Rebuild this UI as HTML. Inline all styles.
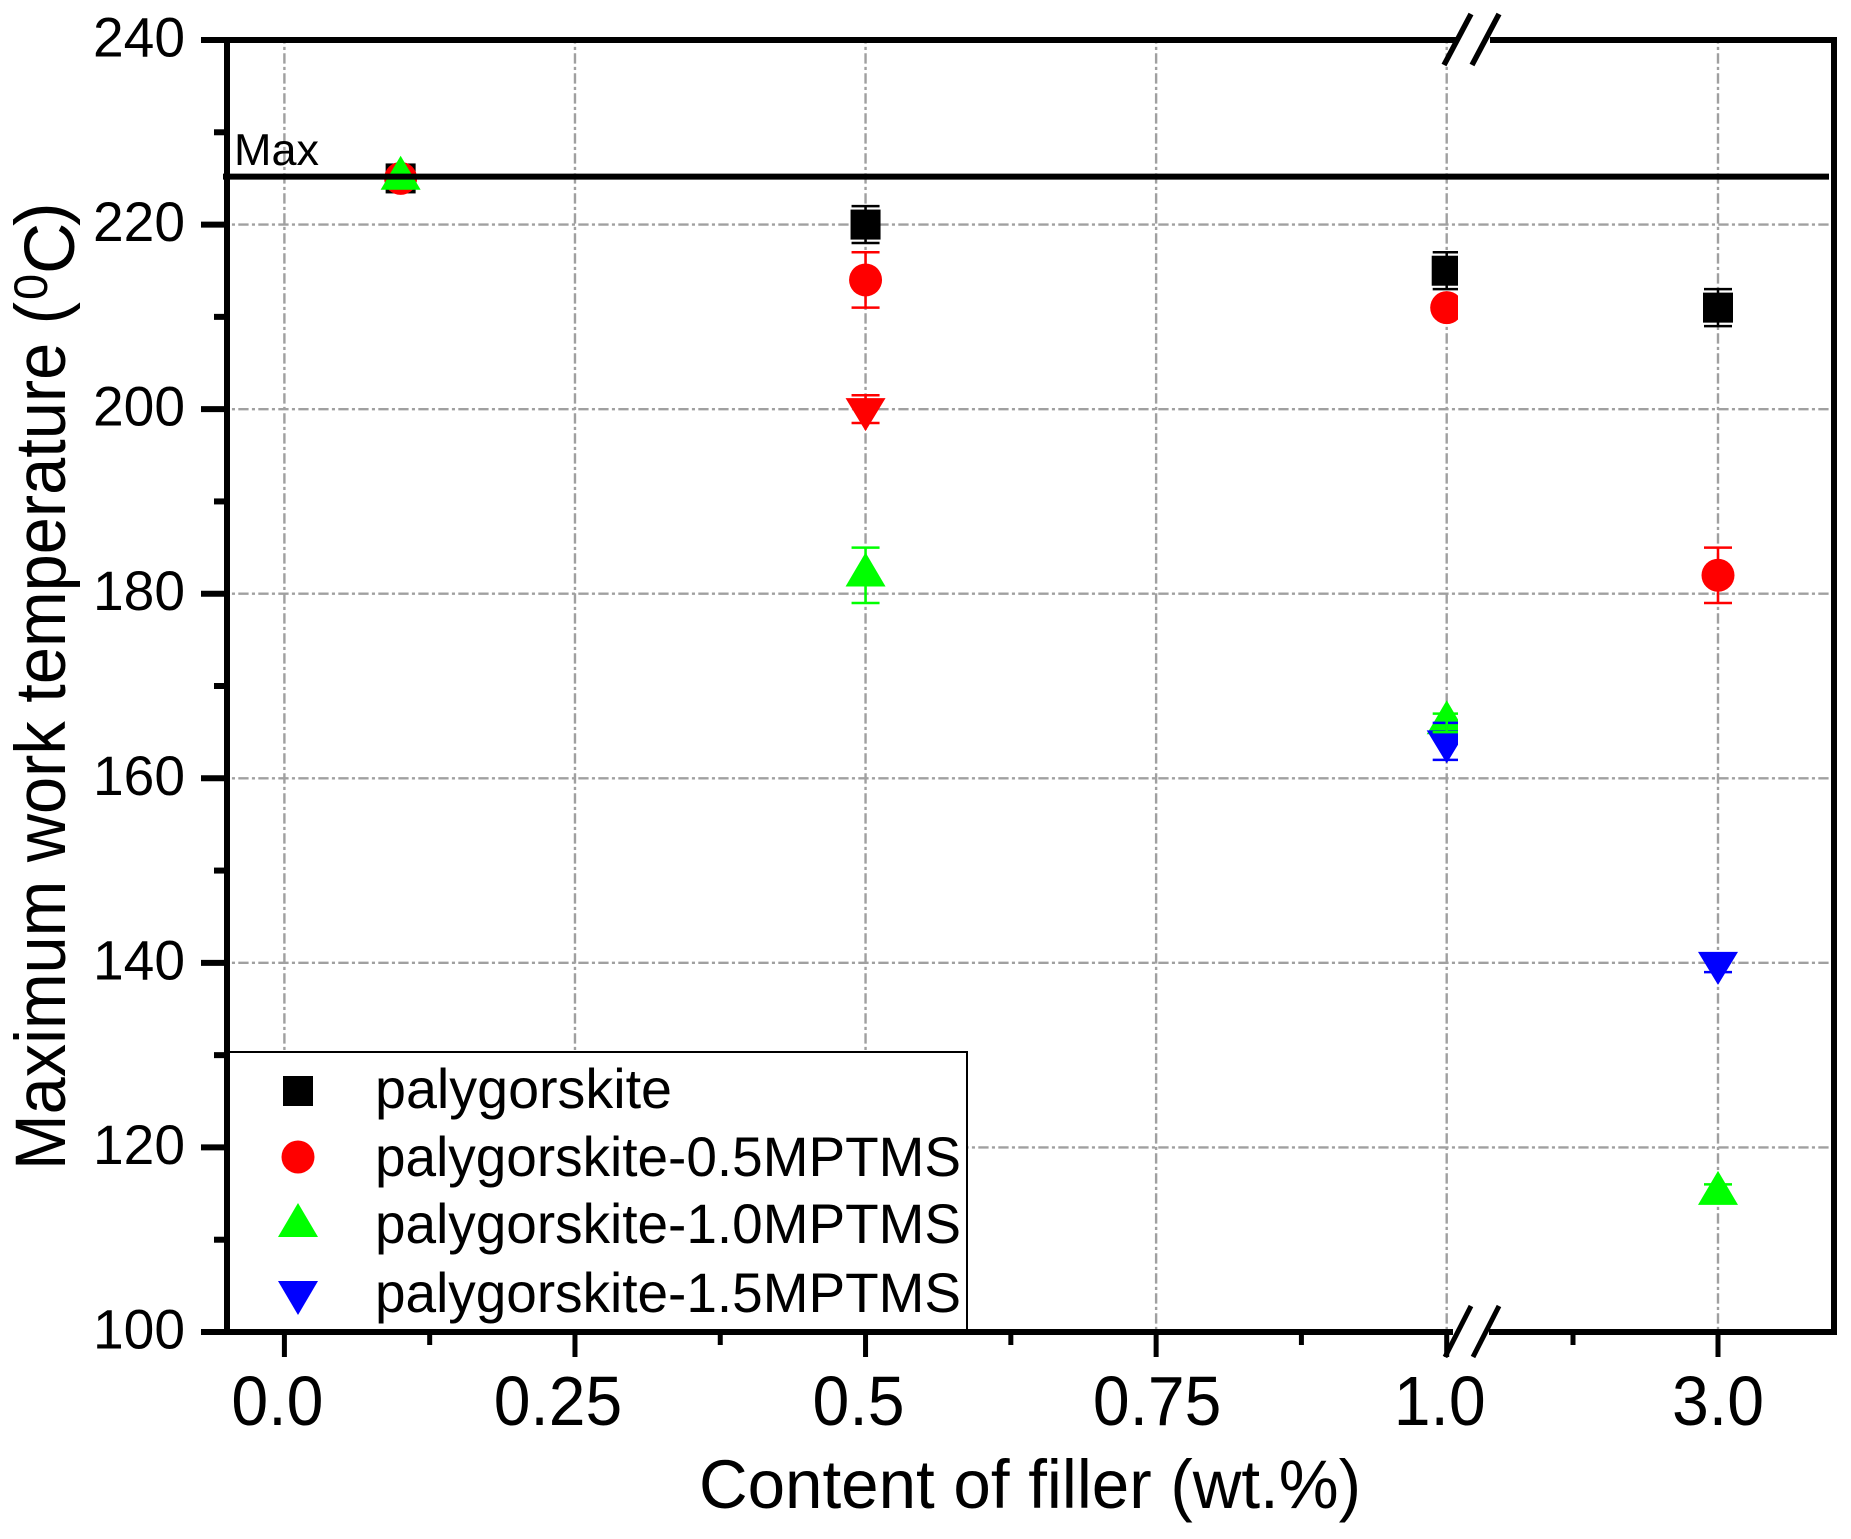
<!DOCTYPE html>
<html lang="en">
<head>
<meta charset="utf-8">
<title>Maximum work temperature vs content of filler</title>
<style>
html,body{margin:0;padding:0;background:#fff;}
svg{display:block;font-family:"Liberation Sans",Arial,sans-serif;}
</style>
</head>
<body>
<svg id="chart" xmlns="http://www.w3.org/2000/svg" width="1851" height="1539" viewBox="0 0 1851 1539">
  <rect x="0" y="0" width="1851" height="1539" fill="#fff"/>
  <defs>
    <clipPath id="data-clip">
      <rect x="230" y="43" width="1228" height="1286"/>
      <rect x="1490" y="43" width="341" height="1286"/>
    </clipPath>
  </defs>
  <g id="grid-layer"></g>
  <g id="data-layer" clip-path="url(#data-clip)"></g>
  <line id="max-line" x1="223" x2="1829" stroke="#000" stroke-width="6"/>
  <text x="234" y="165" font-size="44.5" fill="#000" textLength="85" lengthAdjust="spacingAndGlyphs">Max</text>

  <g>
    <rect x="229" y="1052" width="738" height="280" fill="#fff" stroke="#000" stroke-width="2"/>
    <rect x="283" y="1076" width="30" height="30" fill="#000"/>
    <circle cx="298" cy="1157" r="16.5" fill="#f00"/>
    <polygon points="298,1203 318,1237 278,1237" fill="#0f0"/>
    <polygon points="278,1281 318,1281 298,1315" fill="#00f"/>
    <text x="375" y="1108" font-size="56" fill="#000" textLength="297" lengthAdjust="spacingAndGlyphs">palygorskite</text>
    <text x="375" y="1176" font-size="56" fill="#000" textLength="586" lengthAdjust="spacingAndGlyphs">palygorskite-0.5MPTMS</text>
    <text x="375" y="1243" font-size="56" fill="#000" textLength="586" lengthAdjust="spacingAndGlyphs">palygorskite-1.0MPTMS</text>
    <text x="375" y="1312" font-size="56" fill="#000" textLength="586" lengthAdjust="spacingAndGlyphs">palygorskite-1.5MPTMS</text>
  </g>

  <g id="axis-layer">
    <line x1="227" y1="37" x2="227" y2="1335" stroke="#000" stroke-width="6"/>
    <line x1="1834" y1="37" x2="1834" y2="1335" stroke="#000" stroke-width="6"/>
    <line x1="201" y1="40" x2="1457" y2="40" stroke="#000" stroke-width="6"/>
    <line x1="1490" y1="40" x2="1837" y2="40" stroke="#000" stroke-width="6"/>
    <line x1="201" y1="1332" x2="1453" y2="1332" stroke="#000" stroke-width="6"/>
    <line x1="1489" y1="1332" x2="1837" y2="1332" stroke="#000" stroke-width="6"/>
    <line x1="1444" y1="65" x2="1471" y2="14" stroke="#000" stroke-width="5.5"/>
    <line x1="1472" y1="65" x2="1499" y2="14" stroke="#000" stroke-width="5.5"/>
    <line x1="1445" y1="1357" x2="1471" y2="1306" stroke="#000" stroke-width="5"/>
    <line x1="1473" y1="1357" x2="1499" y2="1306" stroke="#000" stroke-width="5"/>
  </g>

  <text x="699" y="1508" font-size="69" fill="#000" textLength="662" lengthAdjust="spacingAndGlyphs">Content of filler (wt.%)</text>
  <text transform="rotate(-90)" font-size="71" fill="#000"><tspan x="-1170" y="65" textLength="868" lengthAdjust="spacingAndGlyphs">Maximum work temperature (</tspan><tspan x="-300" y="47" font-size="47">0</tspan><tspan x="-274" y="74" font-size="71">C</tspan><tspan x="-226" y="65" font-size="71">)</tspan></text>
</svg>

<script>
// ---------- chart data ----------
const xCategories = [0.1, 0.5, 1.0, 3.0];
const palygorskiteValues = [225, 220, 215, 211];
const palygorskiteErrors = [0, 2, 2, 2];
const mptms05Values = [225, 214, 211, 182];
const mptms05Errors = [0, 3, 0, 3];
const mptms10Values = [225, 182, 166, 115];
const mptms10Errors = [0, 3, 1, 1];
const mptms15Values = [null, 200, 164, 140];
const mptms15Errors = [0, 1.5, 2, 1];
const maxTemperature = [225.2];
const yMajorTicks = [100, 120, 140, 160, 180, 200, 220, 240];
const yMinorTicks = [110, 130, 150, 170, 190, 210, 230];
const xMajorTicks = [0, 0.25, 0.5, 0.75, 1.0, 3.0];
const xMajorLabels = ['0.0', '0.25', '0.5', '0.75', '1.0', '3.0'];
const xMinorTicks = [0.125, 0.375, 0.625, 0.875, 2.0];

// ---------- axis functions ----------
function yScale(v) { return 40 + (240 - v) * (1292 / 140); }
function xScale(v) {
  if (v <= 1) return 284.4 + v * 1162.3;
  return 1718 - (3 - v) * 145;
}
function labelNudge(label) {
  if (label === '0.25') return -17;
  if (label === '0.0' || label === '0.5' || label === '1.0') return -7;
  if (label === '0.75') return 1;
  return 0;
}

const NS = 'http://www.w3.org/2000/svg';
function mk(tag, attrs, parent) {
  const el = document.createElementNS(NS, tag);
  Object.keys(attrs).forEach(function (k) { el.setAttribute(k, attrs[k]); });
  parent.appendChild(el);
  return el;
}

const gridLayer = document.getElementById('grid-layer');
const dataLayer = document.getElementById('data-layer');
const axisLayer = document.getElementById('axis-layer');
const GRID = '#a0a0a0';
const DASH = '10.3 3.3 3.1 3.3';

document.getElementById('max-line').setAttribute('y1', yScale(maxTemperature[0]));
document.getElementById('max-line').setAttribute('y2', yScale(maxTemperature[0]));

// ---------- grid ----------
yMajorTicks.forEach(function (v) {
  if (v === 100 || v === 240) return;
  const g = mk('line', { x1: 230, x2: 1831, y1: yScale(v), y2: yScale(v), stroke: GRID, 'stroke-width': 2.4, 'stroke-dasharray': DASH, 'stroke-dashoffset': 11.7 }, gridLayer);
  
  
});
xMajorTicks.forEach(function (v) {
  const g = mk('line', { x1: xScale(v), x2: xScale(v), y1: 43, y2: 1329, stroke: GRID, 'stroke-width': 2.4, 'stroke-dasharray': DASH, 'stroke-dashoffset': 9.7 }, gridLayer);
  
  
});

// ---------- ticks ----------
yMajorTicks.forEach(function (v) {
  const t = mk('line', { x1: 201, x2: 227, y1: yScale(v), y2: yScale(v), stroke: '#000', 'stroke-width': 6 }, axisLayer);
  
  
  const l = mk('text', { x: 185, y: yScale(v) + 16.5, 'text-anchor': 'end', 'font-size': 55.5, fill: '#000', textLength: 92, lengthAdjust: 'spacingAndGlyphs' }, axisLayer);
  l.textContent = String(v);
  
  
});
yMinorTicks.forEach(function (v) {
  const t = mk('line', { x1: 214, x2: 227, y1: yScale(v), y2: yScale(v), stroke: '#000', 'stroke-width': 6 }, axisLayer);
  
  
});
xMajorTicks.forEach(function (v, i) {
  const t = mk('line', { x1: xScale(v), x2: xScale(v), y1: 1332, y2: 1357, stroke: '#000', 'stroke-width': 5 }, axisLayer);
  
  
  const adv = xMajorLabels[i].length === 4 ? 128.5 : 92;
  const l = mk('text', { x: xScale(v) + labelNudge(xMajorLabels[i]), y: 1425, 'text-anchor': 'middle', 'font-size': 70, fill: '#000', textLength: adv, lengthAdjust: 'spacingAndGlyphs' }, axisLayer);
  l.textContent = xMajorLabels[i];
  
  
});
xMinorTicks.forEach(function (v) {
  const t = mk('line', { x1: xScale(v), x2: xScale(v), y1: 1332, y2: 1345, stroke: '#000', 'stroke-width': 5 }, axisLayer);
  
  
});

// ---------- markers ----------
function drawSquare(cx, cy, color) {
  const m = mk('rect', { x: cx - 15, y: cy - 15, width: 30, height: 30, fill: color }, dataLayer);
  
  
}
function drawCircle(cx, cy, color) {
  const m = mk('circle', { cx: cx, cy: cy, r: 16.5, fill: color }, dataLayer);
  
  
}
function drawUp(cx, cy, color) {
  const pts = [cx, cy - 22.7, cx + 20, cy + 11.3, cx - 20, cy + 11.3].join(' ');
  const m = mk('polygon', { points: pts, fill: color }, dataLayer);
  
  
}
function drawDown(cx, cy, color) {
  const pts = [cx - 20, cy - 11, cx + 20, cy - 11, cx, cy + 22].join(' ');
  const m = mk('polygon', { points: pts, fill: color }, dataLayer);
  
  
}
function drawError(xv, v, e, color) {
  if (v === null || !e) return;
  const cx = xScale(xv);
  const top = yScale(v + e);
  const bot = yScale(v - e);
  const stem = mk('line', { x1: cx, x2: cx, y1: top, y2: bot, stroke: color, 'stroke-width': 2.5 }, dataLayer);
  
  
  const capTop = mk('line', { x1: cx - 14, x2: cx + 14, y1: top, y2: top, stroke: color, 'stroke-width': 2.5 }, dataLayer);
  
  
  const capBot = mk('line', { x1: cx - 14, x2: cx + 14, y1: bot, y2: bot, stroke: color, 'stroke-width': 2.5 }, dataLayer);
  
  
}

const mptms15Colors = ['#00f', '#f00', '#00f', '#00f'];

xCategories.forEach(function (xv, i) {
  if (palygorskiteValues[i] !== null) drawSquare(xScale(xv), yScale(palygorskiteValues[i]), '#000');
});
xCategories.forEach(function (xv, i) {
  if (mptms05Values[i] !== null) drawCircle(xScale(xv), yScale(mptms05Values[i]), '#f00');
});
xCategories.forEach(function (xv, i) {
  if (mptms10Values[i] !== null) drawUp(xScale(xv), yScale(mptms10Values[i]), '#0f0');
});
xCategories.forEach(function (xv, i) {
  if (mptms15Values[i] !== null) drawDown(xScale(xv), yScale(mptms15Values[i]), mptms15Colors[i]);
});
xCategories.forEach(function (xv, i) {
  drawError(xv, palygorskiteValues[i], palygorskiteErrors[i], '#000');
  drawError(xv, mptms05Values[i], mptms05Errors[i], '#f00');
  drawError(xv, mptms15Values[i], mptms15Errors[i], mptms15Colors[i]);
  drawError(xv, mptms10Values[i], mptms10Errors[i], '#0f0');
});
</script>
</body>
</html>
